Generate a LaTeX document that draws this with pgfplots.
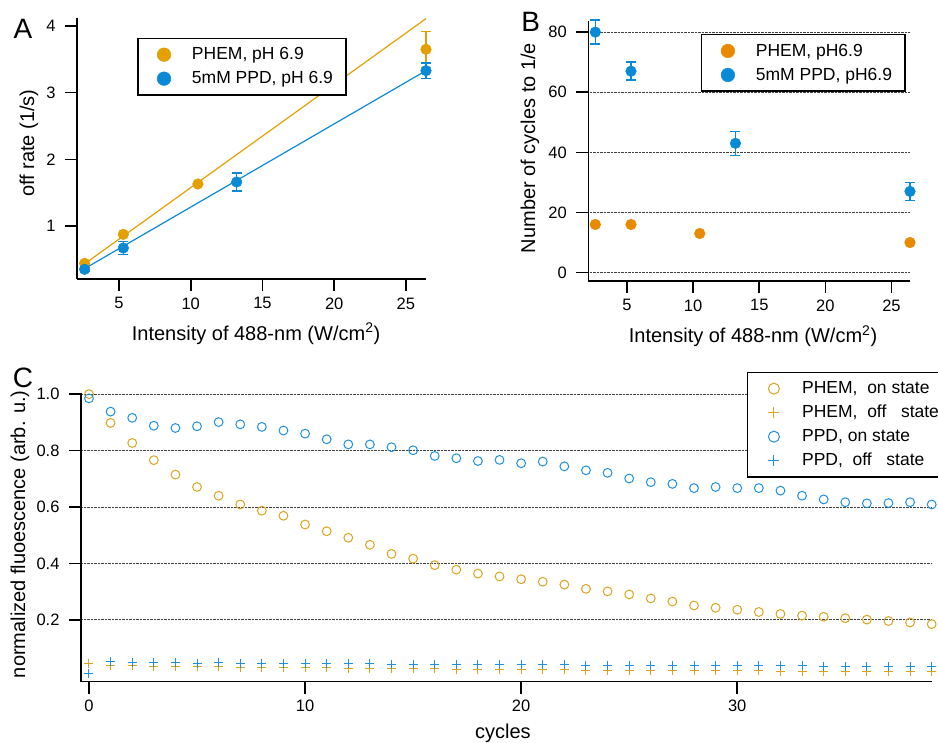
\documentclass[border=0pt]{standalone}
\usepackage{fontspec}
\setmainfont{Liberation Sans}
\usepackage{pgfplots}
\pgfplotsset{compat=1.18}

\definecolor{phemA}{RGB}{227,160,0}
\definecolor{phemB}{RGB}{232,137,0}
\definecolor{ppd}{RGB}{10,138,214}
\definecolor{phemC}{RGB}{217,164,30}
\definecolor{ppdC}{RGB}{30,144,224}

\newcommand{\lblfont}{\fontsize{20}{22}\selectfont}

\pgfplotsset{
  igor/.style={
    scale only axis, clip=false,
    axis x line*=bottom, axis y line*=left,
    axis line style={line width=1.6pt, -},
    tick align=outside, major tick length=12pt,
    every tick/.style={black, line width=1.6pt},
    minor tick num=0,
    /pgf/number format/assume math mode=true,
    tick label style={font=\fontsize{16.5}{18}\selectfont},
    yticklabel style={xshift=-6pt},
    xticklabel style={yshift=-3pt},
    every axis y label/.style={rotate=90, anchor=center, font=\lblfont},
    every axis x label/.style={anchor=base, font=\lblfont},
    legend cell align=left,
    legend style={draw=black, line width=1.5pt, fill=white, anchor=north west,
      inner xsep=13pt, inner ysep=9pt, row sep=9.5pt,
      font=\fontsize{17.5}{19}\selectfont,
      nodes={inner sep=0pt, text height=12.5pt, text depth=2pt}},
    legend image code/.code={\path (0pt,0pt) (40.7pt,0pt); \draw[##1] plot coordinates {(13pt,0pt)};},
  },
  errs/.style={
    error bars/.cd, y dir=both, y explicit,
    error bar style={line width=1.5pt},
    error mark options={rotate=90, mark size=5pt, line width=1.5pt},
  },
}

\begin{document}
\begin{tikzpicture}
\useasboundingbox (0pt,0pt) rectangle (938pt,743pt);

% ---- A
\begin{axis}[igor,
  at={(77pt,464pt)}, anchor=south west,
  width=349pt, height=261pt,
  xmin=2.07, xmax=26.4, ymin=0.205, ymax=4.12,
  xtick={5,10,15,20,25}, ytick={1,2,3,4},
  xlabel={Intensity of 488-nm (W/cm\textsuperscript{2})},
  ylabel={off rate (1/s)},
  xlabel style={at={(axis description cs:0.513,-0.234)}},
  ylabel style={at={(axis description cs:-0.1375,0.52)}},
  legend style={at={(axis description cs:0.172,0.9245)}},
  legend image post style={mark size=6.8pt},
]
\addplot[phemA, line width=1.2pt, forget plot] coordinates {(2.6,0.432) (26.4,4.11)};
\addplot[ppd, line width=1.2pt, forget plot] coordinates {(2.6,0.36) (26.4,3.33)};
\addplot[only marks, mark=*, mark size=5.3pt, color=phemA, line width=0.5pt, errs] coordinates {
  (2.6,0.44) +- (0,0)
  (5.3,0.875) +- (0,0)
  (10.5,1.63) +- (0,0)
  (26.4,3.65) +- (0,0.27)
};
\addplot[only marks, mark=*, mark size=5.3pt, color=ppd, line width=0.5pt, errs] coordinates {
  (2.6,0.35) +- (0,0.03)
  (5.3,0.67) +- (0,0.10)
  (13.2,1.66) +- (0,0.135)
  (26.4,3.33) +- (0,0.115)
};
\legend{{PHEM, pH 6.9}, {5mM PPD, pH 6.9}}
\end{axis}

% ---- B
\begin{axis}[igor,
  at={(588.3pt,462pt)}, anchor=south west,
  width=321.7pt, height=260.3pt,
  xmin=2.07, xmax=26.4, ymin=-2.8, ymax=83.8,
  xtick={5,10,15,20,25}, ytick={0,20,40,60,80},
  ymajorgrids, major grid style={densely dotted, black!75, line width=0.9pt},
  xlabel={Intensity of 488-nm (W/cm\textsuperscript{2})},
  ylabel={Number of cycles to 1/e},
  xlabel style={at={(axis description cs:0.512,-0.237)}},
  ylabel style={at={(axis description cs:-0.181,0.511)}},
  legend style={at={(axis description cs:0.350,0.949)}},
  legend image post style={mark size=6.8pt},
]
\addplot[only marks, mark=*, mark size=5.3pt, color=phemB, line width=0.5pt] coordinates {
  (2.6,16) (5.3,16) (10.5,13) (26.4,10)
};
\addplot[only marks, mark=*, mark size=5.3pt, color=ppd, line width=0.5pt, errs] coordinates {
  (2.6,80) +- (0,4)
  (5.3,67) +- (0,3)
  (13.2,43) +- (0,4)
  (26.4,27) +- (0,3)
};
\legend{{PHEM, pH6.9}, {5mM PPD, pH6.9}}
\end{axis}

% ---- C
\begin{axis}[igor,
  at={(81pt,61.3pt)}, anchor=south west,
  width=850.7pt, height=288.4pt,
  xmin=-0.37, xmax=39, ymin=-0.019, ymax=1.003,
  xtick={0,10,20,30}, ytick={0.2,0.4,0.6,0.8,1.0},
  yticklabels={0.2,0.4,0.6,0.8,1.0},
  ymajorgrids, major grid style={densely dotted, black!75, line width=0.9pt},
  xlabel={cycles},
  ylabel={normalized fluoescence (arb. u.)},
  xlabel style={at={(axis description cs:0.496,-0.196)}},
  ylabel style={at={(axis description cs:-0.0717,0.511)}},
  legend style={at={(axis description cs:0.7825,1.075)}},
  legend image post style={mark size=5.5pt},
]
\addplot[only marks, mark=o, mark size=4.4pt, color=phemC, line width=1pt] coordinates {
  (0,1.000) (1,0.898) (2,0.827) (3,0.766) (4,0.715) (5,0.671) (6,0.640) (7,0.609)
  (8,0.587) (9,0.569) (10,0.538) (11,0.514) (12,0.491) (13,0.466) (14,0.434) (15,0.417)
  (16,0.394) (17,0.378) (18,0.364) (19,0.354) (20,0.344) (21,0.335) (22,0.325) (23,0.310)
  (24,0.301) (25,0.290) (26,0.276) (27,0.265) (28,0.251) (29,0.243) (30,0.236) (31,0.228)
  (32,0.221) (33,0.215) (34,0.211) (35,0.206) (36,0.201) (37,0.196) (38,0.191) (39,0.185)
};
\addplot[only marks, mark=+, mark size=4.5pt, color=phemC, line width=1pt] coordinates {
  (0,0.046) (1,0.037) (2,0.037) (3,0.035) (4,0.036) (5,0.034) (6,0.034) (7,0.033)
  (8,0.032) (9,0.031) (10,0.030) (11,0.030) (12,0.028) (13,0.028) (14,0.027) (15,0.026)
  (16,0.026) (17,0.025) (18,0.025) (19,0.024) (20,0.024) (21,0.023) (22,0.023) (23,0.022)
  (24,0.022) (25,0.021) (26,0.021) (27,0.021) (28,0.020) (29,0.020) (30,0.019) (31,0.019)
  (32,0.018) (33,0.018) (34,0.018) (35,0.017) (36,0.017) (37,0.017) (38,0.016) (39,0.016)
};
\addplot[only marks, mark=o, mark size=4.4pt, color=ppdC, line width=1pt] coordinates {
  (0,0.985) (1,0.938) (2,0.916) (3,0.888) (4,0.880) (5,0.886) (6,0.901) (7,0.893)
  (8,0.884) (9,0.871) (10,0.860) (11,0.840) (12,0.822) (13,0.822) (14,0.812) (15,0.801)
  (16,0.781) (17,0.773) (18,0.763) (19,0.767) (20,0.755) (21,0.761) (22,0.744) (23,0.730)
  (24,0.721) (25,0.701) (26,0.688) (27,0.682) (28,0.667) (29,0.671) (30,0.667) (31,0.667)
  (32,0.658) (33,0.640) (34,0.627) (35,0.617) (36,0.613) (37,0.614) (38,0.617) (39,0.609)
};
\addplot[only marks, mark=+, mark size=4.5pt, color=ppdC, line width=1pt] coordinates {
  (0,0.011) (1,0.052) (2,0.049) (3,0.048) (4,0.048) (5,0.047) (6,0.048) (7,0.047)
  (8,0.046) (9,0.046) (10,0.045) (11,0.045) (12,0.045) (13,0.044) (14,0.043) (15,0.043)
  (16,0.043) (17,0.043) (18,0.042) (19,0.042) (20,0.042) (21,0.041) (22,0.041) (23,0.040)
  (24,0.040) (25,0.040) (26,0.039) (27,0.039) (28,0.039) (29,0.038) (30,0.038) (31,0.038)
  (32,0.037) (33,0.037) (34,0.036) (35,0.036) (36,0.035) (37,0.035) (38,0.035) (39,0.034)
};
\legend{{PHEM,\ \ on state}, {PHEM,\ \ off\ \ \ state}, {PPD, on state}, {PPD,\ \ off\ \ \ state}}
\end{axis}

\node[font=\fontsize{28}{30}\selectfont] at (23pt,714pt) {A};
\node[font=\fontsize{28}{30}\selectfont] at (530.7pt,720.7pt) {B};
\node[font=\fontsize{28}{30}\selectfont] at (23pt,365pt) {C};
\end{tikzpicture}
\end{document}
